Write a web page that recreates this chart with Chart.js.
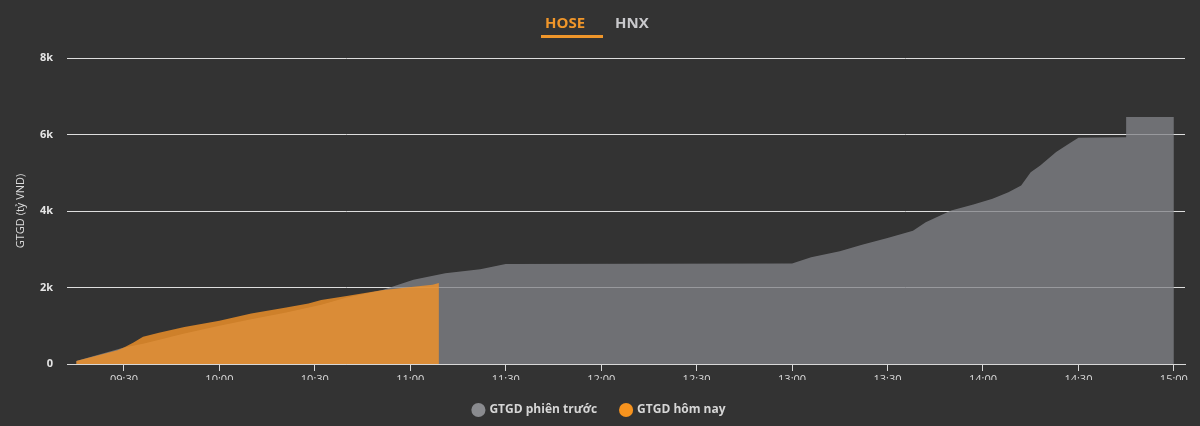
<!DOCTYPE html>
<html>
<head>
<meta charset="utf-8">
<script src="https://cdn.jsdelivr.net/npm/chart.js@4"></script>
<style>
    html, body { margin: 0; padding: 0; background: #333333; }
    #wrap { position: relative; width: 1200px; height: 426px; }
    .tab { position: absolute; top: 12px; font: bold 15px "Open Sans", sans-serif; line-height: 20px; }
    #tabHose { left: 545px; color: #f0962a; }
    #tabHnx { left: 615px; color: #c9c9cc; }
    #tabLine { position: absolute; left: 541px; top: 35px; width: 62px; height: 3px; background: #f0962a; }
</style>
</head>
<body>
<div id="wrap">
    <canvas id="valueChart" width="1200" height="426"></canvas>
    <div class="tab" id="tabHose">HOSE</div>
    <div class="tab" id="tabHnx">HNX</div>
    <div id="tabLine"></div>
</div>
<script>
// GTGD theo thời gian (tỷ VND)
const prevTimes = ['09:15', '09:30', '09:36', '09:49', '10:00', '10:10', '10:21', '10:32', '10:40', '10:51',
    '11:01', '11:11', '11:22', '11:30', '13:00', '13:06', '13:15', '13:22', '13:30', '13:38', '13:42',
    '13:50', '13:57', '14:03', '14:08', '14:12', '14:15', '14:18', '14:23', '14:27', '14:30', '14:45',
    '14:45', '15:00'];
const prevValues = [80, 430, 530, 795, 997, 1170, 1345, 1548, 1740, 1930,
    2200, 2370, 2480, 2615, 2630, 2790, 2945, 3120, 3295, 3485, 3705,
    4010, 4170, 4320, 4490, 4665, 5015, 5190, 5540, 5760, 5915, 5930,
    6460, 6460];

const todayTimes = ['09:15', '09:28', '09:30', '09:33', '09:36', '09:41', '09:49', '10:00', '10:10', '10:21',
    '10:28', '10:32', '10:40', '10:51', '11:01', '11:07', '11:09'];
const todayValues = [80, 360, 430, 560, 710, 820, 970, 1130, 1320, 1480,
    1580, 1670, 1780, 1930, 2020, 2070, 2120];

const tickLabels = ['09:30', '10:00', '10:30', '11:00', '11:30', '12:00', '12:30', '13:00', '13:30', '14:00', '14:30', '15:00'];
const yTicks = [0, 2000, 4000, 6000, 8000];

const toMinutes = (t) => {
    const [h, m] = t.split(':').map(Number);
    return h * 60 + m;
};
const toTime = (v) => {
    const h = Math.floor(v / 60);
    const m = Math.round(v % 60);
    return `${String(h).padStart(2, '0')}:${String(m).padStart(2, '0')}`;
};

const prevData = prevTimes.map((t, i) => ({ x: toMinutes(t), y: prevValues[i] }));
const todayData = todayTimes.map((t, i) => ({ x: toMinutes(t), y: todayValues[i] }));

const legendColors = ['#8a8b8f', '#f7931e'];
const fontFamily = '"Open Sans", "DejaVu Sans", sans-serif';

new Chart(document.getElementById('valueChart'), {
    type: 'line',
    data: {
        datasets: [
            {
                label: 'GTGD hôm nay',
                data: todayData,
                backgroundColor: 'rgba(245, 148, 40, 0.8)',
                borderWidth: 0,
                pointRadius: 0,
                fill: 'origin',
                tension: 0
            },
            {
                label: 'GTGD phiên trước',
                data: prevData,
                backgroundColor: 'rgba(130, 131, 136, 0.77)',
                borderWidth: 0,
                pointRadius: 0,
                fill: 'origin',
                tension: 0
            }
        ]
    },
    options: {
        responsive: false,
        animation: false,
        layout: {
            padding: { top: 58, right: 15, left: 14, bottom: 0 }
        },
        plugins: {
            tooltip: { enabled: false },
            legend: {
                position: 'bottom',
                labels: {
                    usePointStyle: true,
                    pointStyle: 'circle',
                    boxWidth: 10,
                    boxHeight: 10,
                    padding: 24,
                    color: '#d6d6d6',
                    font: { family: fontFamily, size: 12, weight: 'bold' },
                    sort: (a, b) => b.datasetIndex - a.datasetIndex,
                    generateLabels: (chart) => {
                        const items = Chart.defaults.plugins.legend.labels.generateLabels(chart);
                        items.forEach(item => {
                            const c = item.datasetIndex === 1 ? legendColors[0] : legendColors[1];
                            item.fillStyle = c;
                            item.strokeStyle = c;
                            item.lineWidth = 0;
                        });
                        return items;
                    }
                }
            }
        },
        scales: {
            x: {
                type: 'linear',
                min: 552.1,
                max: 903.5,
                afterBuildTicks: (scale) => {
                    scale.ticks = tickLabels.map(t => ({ value: toMinutes(t) }));
                },
                afterFit: (scale) => {
                    scale.height = 16;
                },
                ticks: {
                    color: '#dcdcdc',
                    font: { family: fontFamily, size: 11 },
                    padding: 2,
                    maxRotation: 0,
                    callback: (v) => toTime(v)
                },
                grid: {
                    drawOnChartArea: false,
                    drawTicks: true,
                    tickLength: 7,
                    color: '#d8d8d8'
                },
                border: { display: true, color: '#d8d8d8' }
            },
            y: {
                min: 0,
                max: 8000,
                afterBuildTicks: (scale) => {
                    scale.ticks = yTicks.map(v => ({ value: v }));
                },
                afterFit: (scale) => {
                    scale.width = 53;
                },
                ticks: {
                    color: '#e6e6e6',
                    font: { family: fontFamily, size: 11, weight: 'bold' },
                    padding: 14,
                    callback: (v) => v === 0 ? '0' : `${v / 1000}k`
                },
                grid: {
                    color: '#dedede',
                    drawTicks: false
                },
                border: { display: false },
                title: {
                    display: true,
                    text: 'GTGD (tỷ VND)',
                    color: '#dcdcdc',
                    font: { family: fontFamily, size: 11 },
                    padding: 0
                }
            }
        }
    }
});
</script>
</body>
</html>
